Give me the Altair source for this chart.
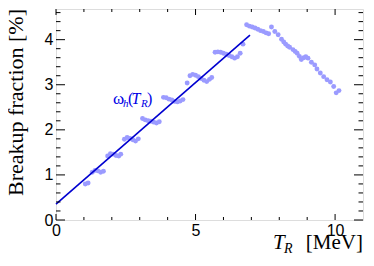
import altair as alt
import pandas as pd

# ---- data ----
tr = [1.05, 1.15, 1.30, 1.40, 1.50, 1.60, 1.70, 1.85, 1.95, 2.05, 2.15, 2.25, 2.32,
      2.45, 2.55, 2.65, 2.75, 2.85, 2.95, 3.10, 3.20, 3.30, 3.40, 3.50, 3.60, 3.70,
      3.85, 3.95, 4.05, 4.15, 4.25, 4.35, 4.45, 4.55, 4.70, 4.80, 4.90, 5.00, 5.10,
      5.20, 5.30, 5.40, 5.50, 5.58, 5.70, 5.80, 5.90, 6.00, 6.10, 6.20, 6.30, 6.40,
      6.50, 6.60, 6.70, 6.83, 6.93, 7.03, 7.13, 7.23, 7.33, 7.43, 7.53, 7.62, 7.72,
      7.84, 7.96, 8.08, 8.16, 8.23, 8.30, 8.37, 8.49, 8.57, 8.64, 8.72, 8.79, 8.88,
      8.95, 9.03, 9.15, 9.27, 9.35, 9.47, 9.59, 9.71, 9.83, 9.95, 10.04, 10.14]
frac = [0.80, 0.82, 1.06, 1.10, 1.09, 1.06, 1.08, 1.42, 1.47, 1.46, 1.43, 1.42, 1.46,
        1.79, 1.83, 1.81, 1.78, 1.75, 1.80, 2.25, 2.22, 2.20, 2.19, 2.17, 2.15, 2.18,
        2.72, 2.71, 2.68, 2.66, 2.63, 2.62, 2.64, 2.67, 3.04, 3.20, 3.23, 3.21, 3.18,
        3.14, 3.10, 3.07, 3.12, 3.16, 3.72, 3.73, 3.72, 3.70, 3.68, 3.65, 3.62, 3.59,
        3.62, 3.70, 3.90, 4.33, 4.30, 4.28, 4.26, 4.23, 4.20, 4.18, 4.15, 4.13, 4.28,
        4.18, 4.11, 4.01, 3.95, 3.90, 3.86, 3.83, 3.78, 3.74, 3.70, 3.63, 3.56, 3.60,
        3.62, 3.59, 3.50, 3.44, 3.35, 3.26, 3.18, 3.11, 3.06, 2.96, 2.82, 2.87]

fit_x = [0.0, 6.95]
fit_y = [0.35, 4.10]

x_major = [0, 5, 10]
x_minor = [1, 2, 3, 4, 6, 7, 8, 9]
y_major = [0, 1, 2, 3, 4]
y_minor = [0.2, 0.4, 0.6, 0.8, 1.2, 1.4, 1.6, 1.8, 2.2, 2.4, 2.6, 2.8,
           3.2, 3.4, 3.6, 3.8, 4.2, 4.4, 4.6]

W, H = 307, 211
XDOM = [0, 11]
YDOM = [0, 4.68]
LABEL_FONT = "Liberation Sans"
SERIF = "Liberation Serif"

xscale = alt.Scale(domain=XDOM, nice=False, zero=False)
yscale = alt.Scale(domain=YDOM, nice=False, zero=False)

xaxis = alt.Axis(values=x_major, format="d", ticks=False, domain=False, grid=False,
                 labelFont=LABEL_FONT, labelFontSize=16, labelColor="black",
                 labelPadding=2, labelFlush=False, title=None)
yaxis = alt.Axis(values=y_major, format="d", ticks=False, domain=False, grid=False,
                 labelFont=LABEL_FONT, labelFontSize=16, labelColor="black",
                 labelPadding=3, labelFlush=False, title=None)

X = alt.X("x:Q", scale=xscale, axis=xaxis)
Y = alt.Y("y:Q", scale=yscale, axis=yaxis)

pts = alt.Chart(pd.DataFrame({"x": tr, "y": frac})).mark_circle(
    size=24, color="#9b9bff", opacity=1).encode(x=X, y=Y)

fit = alt.Chart(pd.DataFrame({"x": fit_x, "y": fit_y})).mark_line(
    color="#0000d0", strokeWidth=1.6).encode(x=X, y=Y)

def xticks(vals, length):
    d = pd.DataFrame({"x": vals})
    b = alt.Chart(d).mark_rule(color="black", strokeWidth=1).encode(
        x=X, y=alt.value(H), y2=alt.value(H - length))
    t = alt.Chart(d).mark_rule(color="black", strokeWidth=1).encode(
        x=X, y=alt.value(0), y2=alt.value(length))
    return [b, t]

def yticks(vals, length):
    d = pd.DataFrame({"y": vals})
    l = alt.Chart(d).mark_rule(color="black", strokeWidth=1).encode(
        y=Y, x=alt.value(0), x2=alt.value(length))
    r = alt.Chart(d).mark_rule(color="black", strokeWidth=1).encode(
        y=Y, x=alt.value(W), x2=alt.value(W - length))
    return [l, r]

ticks = xticks(x_major, 6) + xticks(x_minor, 3) + yticks(y_major, 9) + yticks(y_minor, 4.5)

def txt(s, x, y, size, font=SERIF, style="normal", color="black", align="left",
        angle=0, baseline="alphabetic"):
    kw = dict(font=font, fontSize=size, fontStyle=style, color=color,
              align=align, baseline=baseline)
    if angle:
        kw["angle"] = angle
    return alt.Chart(pd.DataFrame({"t": [s]})).mark_text(**kw).encode(
        text="t:N", x=alt.value(x), y=alt.value(y))

labels = [
    # y title
    txt("Breakup fraction  [%]", -33, 0, 22, align="right", angle=270),
    # x title
    txt("[MeV]", W, 240, 21, align="right"),
    txt("T", 217, 240, 21, style="italic"),
    txt("R", 228, 244, 14, style="italic"),
    # omega_h(T_R)
    txt("ω", 57, 94.5, 17, color="#0000e6"),
    txt("h", 67, 97.5, 11, style="italic", color="#0000e6"),
    txt("(", 72, 94.5, 16, color="#0000e6"),
    txt("T", 75.5, 94.5, 16, style="italic", color="#0000e6"),
    txt("R", 85, 97.5, 11, style="italic", color="#0000e6"),
    txt(")", 91, 94.5, 16, color="#0000e6"),
]

chart = alt.layer(pts, fit, *ticks, *labels).properties(
    width=W, height=H,
    autosize=alt.AutoSizeParams(type="none"),
    padding={"left": 48, "top": 1, "right": 3, "bottom": 40},
).configure_view(stroke="black", strokeWidth=1).configure(background="white")

chart.save("out.html", embed_options={"renderer": "svg", "actions": False})
